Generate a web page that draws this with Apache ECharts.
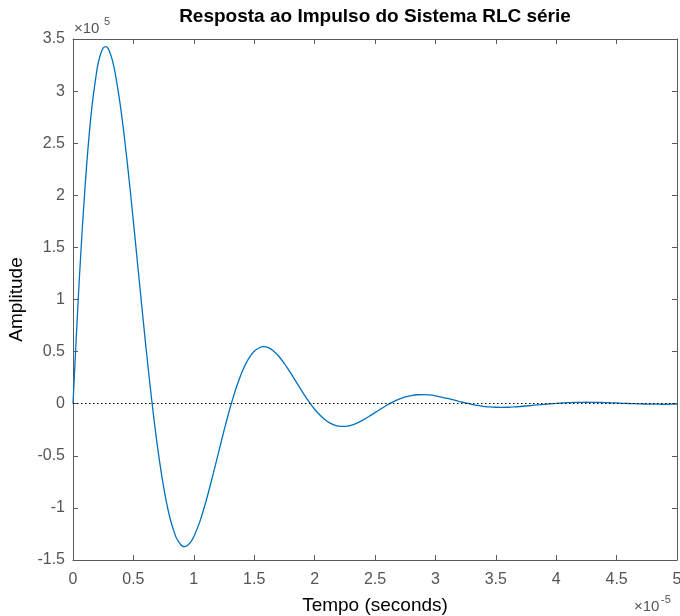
<!DOCTYPE html>
<html>
<head>
<meta charset="utf-8">
<script src="https://cdn.jsdelivr.net/npm/echarts@6/dist/echarts.min.js"></script>
<style>html,body{margin:0;padding:0;background:#fff;overflow:hidden;}#chart{width:680px;height:616px;}</style>
</head>
<body>
<div id="chart"></div>
<script>
// Time in units of 1e-5 s
const timeValues = [0,0.05,0.1,0.15,0.2,0.225,0.25,0.275,0.3,0.325,0.35,0.4,0.45,0.5,0.55,0.6,0.65,0.7,0.75,0.8,0.85,0.875,0.9,0.925,0.95,0.975,1.0,1.05,1.1,1.15,1.2,1.25,1.3,1.35,1.4,1.45,1.5,1.55,1.575,1.6,1.625,1.65,1.7,1.75,1.8,1.85,1.9,1.95,2.0,2.05,2.1,2.15,2.2,2.25,2.3,2.35,2.4,2.45,2.5,2.55,2.6,2.65,2.7,2.75,2.8,2.85,2.9,2.95,3.0,3.05,3.1,3.15,3.2,3.25,3.3,3.35,3.4,3.45,3.5,3.55,3.6,3.65,3.7,3.75,3.8,3.85,3.9,3.95,4.0,4.05,4.1,4.15,4.2,4.25,4.3,4.35,4.4,4.45,4.5,4.55,4.6,4.65,4.7,4.75,4.8,4.85,4.9,4.95,5.0];
// Amplitude in units of 1e5
const amplitudeValues = [0,1.151,2.086,2.777,3.218,3.344,3.414,3.427,3.387,3.299,3.167,2.793,2.306,1.747,1.163,0.586,0.051,-0.417,-0.799,-1.085,-1.273,-1.327,-1.362,-1.372,-1.359,-1.327,-1.277,-1.132,-0.941,-0.722,-0.491,-0.259,-0.041,0.149,0.306,0.425,0.503,0.542,0.548,0.545,0.534,0.515,0.460,0.385,0.298,0.205,0.112,0.025,-0.053,-0.116,-0.166,-0.199,-0.216,-0.218,-0.208,-0.186,-0.157,-0.123,-0.086,-0.049,-0.013,0.018,0.044,0.065,0.078,0.086,0.087,0.084,0.076,0.064,0.050,0.036,0.021,0.007,-0.006,-0.017,-0.025,-0.031,-0.034,-0.035,-0.034,-0.031,-0.027,-0.022,-0.017,-0.011,-0.006,-0.001,0.003,0.007,0.010,0.012,0.013,0.014,0.013,0.012,0.011,0.009,0.007,0.004,0.002,0.000,-0.002,-0.004,-0.005,-0.005,-0.006,-0.005,-0.005];
const xTickLabels = ['0','0.5','1','1.5','2','2.5','3','3.5','4','4.5','5'];
const yTickLabels = ['-1.5','-1','-0.5','0','0.5','1','1.5','2','2.5','3','3.5'];
const titleText = 'Resposta ao Impulso do Sistema RLC série';
const xName = 'Tempo (seconds)';
const yName = 'Amplitude';

const chart = echarts.init(document.getElementById('chart'), null, {renderer:'canvas', width:680, height:616});
const FONT = 'Liberation Sans, Arial, Helvetica, sans-serif';
const axisCol = '#5a5a5a';
const labelCol = '#555555';

const seriesData = timeValues.map((t,i)=>[t, amplitudeValues[i]]);

function fmtX(v){ const s = Math.round(v*10)/10; return xTickLabels.includes(String(s)) ? String(s) : ''; }
function fmtY(v){ const s = Math.round(v*10)/10; return yTickLabels.includes(String(s)) ? String(s) : ''; }

const option = {
  backgroundColor:'#fff',
  animation:false,
  grid:{left:73, top:39, width:604, height:521, containLabel:false, outerBoundsMode:'none'},
  xAxis:[
    {type:'value', min:0, max:5, interval:0.5, position:'bottom',
     name:xName, nameLocation:'middle', nameGap:36,
     nameTextStyle:{fontFamily:FONT, fontSize:19, color:'#000'},
     axisLine:{show:true, onZero:false, lineStyle:{color:axisCol, width:1}},
     axisTick:{show:true, inside:true, length:5, lineStyle:{color:axisCol}},
     axisLabel:{fontFamily:FONT, fontSize:16, color:labelCol, margin:12, formatter:fmtX},
     splitLine:{show:false}},
    {type:'value', min:0, max:5, interval:0.5, position:'top',
     axisLine:{show:true, onZero:false, lineStyle:{color:axisCol, width:1}},
     axisTick:{show:true, inside:true, length:5, lineStyle:{color:axisCol}},
     axisLabel:{show:false}, splitLine:{show:false}}
  ],
  yAxis:[
    {type:'value', min:-1.5, max:3.5, interval:0.5, position:'left',
     name:yName, nameLocation:'middle', nameGap:39,
     nameTextStyle:{fontFamily:FONT, fontSize:19, color:'#000'},
     axisLine:{show:true, onZero:false, lineStyle:{color:axisCol, width:1}},
     axisTick:{show:true, inside:true, length:5, lineStyle:{color:axisCol}},
     axisLabel:{fontFamily:FONT, fontSize:16, color:labelCol, margin:8, formatter:fmtY},
     splitLine:{show:false}},
    {type:'value', min:-1.5, max:3.5, interval:0.5, position:'right',
     axisLine:{show:true, onZero:false, lineStyle:{color:axisCol, width:1}},
     axisTick:{show:true, inside:true, length:5, lineStyle:{color:axisCol}},
     axisLabel:{show:false}, splitLine:{show:false}}
  ],
  series:[
    {type:'line', xAxisIndex:0, yAxisIndex:0, data:seriesData, showSymbol:false, smooth:0.3,
     lineStyle:{color:'#0072BD', width:1.3}, z:3,
     markLine:{silent:true, symbol:['none','none'], label:{show:false},
       lineStyle:{color:'#000', type:[1.5,2.5], width:1},
       data:[{yAxis:0}]}}
  ],
  graphic:[
    {type:'text', style:{x:375, y:17, text:titleText, textAlign:'center', textVerticalAlign:'middle',
      font:'bold 19px '+FONT, fill:'#000'}},
    {type:'text', style:{x:74, y:29, text:'×10', textVerticalAlign:'middle', font:'15px '+FONT, fill:labelCol}},
    {type:'text', style:{x:104, y:22, text:'5', textVerticalAlign:'middle', font:'11px '+FONT, fill:labelCol}},
    {type:'text', style:{x:634, y:607, text:'×10', textVerticalAlign:'middle', font:'15px '+FONT, fill:labelCol}},
    {type:'text', style:{x:661, y:600, text:'-5', textVerticalAlign:'middle', font:'11px '+FONT, fill:labelCol}}
  ]
};
chart.setOption(option);
</script>
</body>
</html>
